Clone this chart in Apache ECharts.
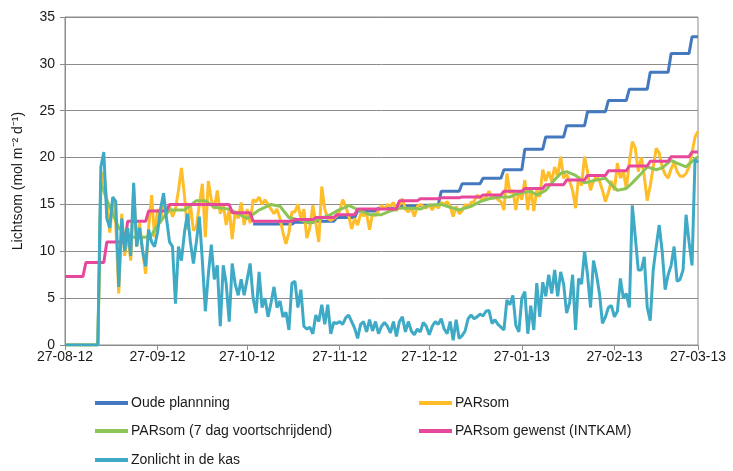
<!DOCTYPE html>
<html>
<head>
<meta charset="utf-8">
<script src="https://cdn.jsdelivr.net/npm/echarts@6/dist/echarts.min.js"></script>
<style>
  html, body { margin: 0; padding: 0; background: #fff; }
  #main { width: 733px; height: 471px; }
</style>
</head>
<body>
<div id="main"></div>
<script>
// x axis = day number since 27-08-12
var tickDays = [0, 31, 61, 92, 122, 153, 184, 212];
var tickLabels = ['27-08-12', '27-09-12', '27-10-12', '27-11-12', '27-12-12', '27-01-13', '27-02-13', '27-03-13'];

// weekly steps: [first day, value]
var oudePlanning = [[63, 12.9], [77, 13.1], [84, 13.2], [91, 13.6], [98, 14.3], [105, 14.6], [112, 14.8], [119, 14.9],
  [126, 16.4], [133, 17.2], [140, 17.8], [147, 18.7], [154, 20.9], [161, 22.2], [168, 23.4], [175, 24.9],
  [182, 26.1], [189, 27.3], [196, 29.1], [203, 31.1], [210, 32.9]];

var parsomGewenst = [[0, 7.3], [7, 8.8], [14, 11.0], [21, 13.2], [28, 14.3], [35, 15.0], [56, 14.1], [63, 13.2],
  [77, 13.4], [84, 13.6], [91, 13.9], [98, 14.5], [112, 15.4], [119, 15.6], [126, 15.7], [133, 15.8],
  [140, 16.0], [147, 16.4], [154, 16.7], [161, 17.1], [168, 17.6], [175, 18.1], [182, 18.6], [189, 19.1],
  [196, 19.6], [203, 20.1], [210, 20.6]];

// daily values, day 0..212
var parsom = [
  0, 0, 0, 0, 0, 0, 0, 0, 0, 0,
  0, 0, 16.5, 18.5, 15.5, 12.0, 15.5, 13.0, 5.5, 14.0,
  9.5, 12.0, 9.0, 16.5, 10.5, 13.0, 10.0, 7.6, 12.5, 16.0,
  11.5, 14.5, 13.0, 15.5, 14.0, 14.8, 13.7, 14.5, 16.5, 18.9,
  16.0, 12.3, 15.0, 12.2, 12.6, 15.0, 17.2, 11.5, 17.5, 15.5,
  14.5, 16.5, 14.0, 15.0, 12.8, 14.5, 11.3, 14.3, 13.5, 15.2,
  12.8, 14.5, 13.0, 15.5, 15.3, 15.8, 15.0, 15.5, 15.0, 14.5,
  14.0, 14.5, 13.5, 12.0, 10.8, 12.0, 14.2, 14.2, 15.0, 13.5,
  14.5, 11.4, 12.5, 14.9, 13.0, 11.0, 16.9, 14.5, 13.5, 13.3,
  13.5, 13.8, 14.3, 15.5, 14.8, 13.8, 12.4, 13.5, 12.8, 14.0,
  13.8, 14.0, 12.3, 14.0, 13.8, 14.3, 14.9, 14.5, 15.0, 14.8,
  15.2, 14.3, 15.0, 15.6, 14.5, 14.2, 14.6, 13.7, 14.8, 15.0,
  14.8, 14.6, 15.0, 14.4, 15.0, 14.6, 15.2, 15.0, 15.3, 14.8,
  13.7, 14.8, 14.0, 14.3, 15.0, 14.7, 15.2, 15.3, 16.0, 15.7,
  15.5, 15.8, 16.4, 15.8, 16.0, 15.5, 15.3, 14.4, 18.3, 16.2,
  16.5, 14.4, 16.5, 15.5, 17.6, 14.4, 16.8, 14.3, 16.5, 15.8,
  18.7, 17.5, 18.5, 17.5, 19.0, 18.0, 20.1, 17.8, 18.2, 17.5,
  16.5, 14.6, 18.0, 17.0, 20.1, 18.5, 16.5, 17.5, 18.0, 17.5,
  16.5, 15.3, 16.3, 17.5, 16.5, 19.4, 17.8, 18.5, 16.7, 19.5,
  21.7, 21.0, 18.5, 20.0, 18.0, 15.4, 17.0, 19.0, 21.0, 20.5,
  19.0, 18.2, 17.8, 18.8, 19.5, 18.5, 18.0, 18.0, 18.3, 19.0,
  20.5, 22.2, 22.8
];

// 7-day running mean: [day, value]
var parsom7 = [[0, 0], [11, 0], [12, 17.4], [14, 15.5], [16, 14.0], [18, 12.5], [20, 11.8], [23, 11.5], [27, 11.5],
  [29, 11.7], [30, 12.3], [32, 13.2], [34, 14.0], [35, 14.4], [38, 14.4], [40, 14.4], [42, 14.9], [44, 15.4],
  [47, 15.4], [50, 14.7], [55, 14.5], [61, 13.5], [65, 14.4], [69, 15.0], [72, 14.8], [75, 13.6], [79, 13.3],
  [82, 13.0], [84, 13.3], [89, 13.9], [91, 14.3], [94, 14.7], [95, 14.9], [99, 14.3], [102, 13.9], [106, 13.9],
  [109, 14.3], [112, 14.6], [116, 14.6], [119, 14.5], [122, 14.9], [126, 15.0], [129, 14.7], [132, 14.4],
  [136, 14.8], [139, 15.3], [142, 15.6], [146, 15.8], [149, 15.8], [152, 16.2], [156, 16.4], [158, 16.0],
  [161, 16.5], [163, 17.3], [166, 18.3], [168, 18.5], [171, 18.1], [174, 17.3], [178, 17.6], [181, 17.8],
  [183, 17.1], [185, 16.5], [188, 16.7], [190, 17.3], [193, 18.3], [195, 19.0], [198, 18.7], [200, 18.9],
  [203, 19.7], [205, 19.4], [208, 19.0], [210, 19.6], [212, 20.1]];

var zonlicht = [
  0, 0, 0, 0, 0, 0, 0, 0, 0, 0,
  0, 0, 19.0, 20.6, 13.5, 12.5, 15.8, 15.3, 6.2, 13.5,
  10.0, 12.5, 9.5, 17.3, 10.5, 12.5, 10.0, 8.4, 12.3, 11.0,
  10.5, 12.0, 14.5, 16.2, 13.5, 11.0, 10.5, 4.4, 10.5, 9.0,
  12.0, 14.0, 11.0, 8.7, 11.0, 13.7, 9.0, 3.6, 7.5, 10.7,
  7.0, 8.5, 2.0, 8.5, 6.5, 2.5, 8.7, 6.5, 5.3, 7.0,
  5.3, 7.0, 8.7, 5.0, 3.4, 7.8, 4.0, 5.0, 3.0, 4.5,
  6.2, 4.0, 4.7, 3.0, 3.5, 1.6, 6.6, 6.8, 4.0, 5.9,
  2.0, 1.7, 1.9, 1.2, 3.2, 2.5, 4.3, 2.2, 4.3, 1.2,
  2.4, 2.3, 2.5, 2.2, 2.9, 3.2, 2.5, 1.8, 0.7, 2.2,
  2.5, 1.4, 2.7, 1.5, 2.5, 1.2, 2.0, 2.4, 2.0, 1.3,
  2.5, 0.9, 2.5, 3.0, 1.4, 2.5, 1.5, 1.1, 1.7, 1.4,
  2.4, 2.0, 1.1, 2.0, 2.5, 2.2, 2.8, 1.7, 1.2, 2.5,
  0.5, 2.7, 0.7, 1.0, 1.5, 2.8, 3.2, 2.8, 3.0, 3.3,
  3.1, 3.6, 3.7, 2.3, 2.7, 2.2, 1.9, 1.6, 4.8, 4.3,
  5.3, 2.1, 1.4, 5.0, 5.7, 1.2, 4.2, 1.6, 6.6, 3.0,
  6.7, 5.2, 7.5, 5.5, 8.0, 5.2, 7.8, 6.5, 3.4, 4.5,
  7.5, 1.6, 7.1, 6.5, 10.0, 7.5, 4.0, 9.0, 7.5, 5.5,
  2.3, 3.0, 4.0, 4.2, 3.0, 3.6, 7.1, 5.0, 5.5, 4.0,
  14.9, 11.5, 8.0, 8.0, 9.4, 4.0, 2.6, 8.0, 10.5, 12.8,
  10.0, 5.9, 7.5, 8.5, 10.5, 6.8, 7.0, 8.0, 13.9, 11.0,
  8.5, 19.8, 19.5
];

var lastDay = 212;

// steps -> line points (one day ramp between levels)
function stepLine(steps) {
  var pts = [];
  for (var i = 0; i < steps.length; i++) {
    var end = i + 1 < steps.length ? steps[i + 1][0] - 1 : lastDay;
    pts.push([steps[i][0], steps[i][1]]);
    pts.push([end, steps[i][1]]);
  }
  return pts;
}

function daily(vals) {
  return vals.map(function (v, i) { return [i, v]; });
}

var chart = echarts.init(document.getElementById('main'));

var font = 'Liberation Sans, Arial, sans-serif';
var legendText = { color: '#1a1a1a', fontSize: 14, fontFamily: font, padding: [0, 0, 0, -2] };

function lineSeries(name, color, data) {
  return {
    name: name,
    type: 'line',
    data: data,
    showSymbol: false,
    symbol: 'none',
    lineStyle: { color: color, width: 3 },
    itemStyle: { color: color }
  };
}

function legendAt(name, left, top) {
  return {
    data: [name],
    left: left,
    top: top,
    padding: 0,
    icon: 'rect',
    itemWidth: 33,
    itemHeight: 4,
    textStyle: legendText
  };
}

var option = {
  animation: false,
  backgroundColor: '#fff',
  grid: {
    left: 65, right: 35, top: 17, bottom: 126,
    show: true, borderColor: '#8c8c8c', borderWidth: 1
  },
  legend: [
    legendAt('Oude plannning', 95, 396),
    legendAt('PARsom', 419, 396),
    legendAt('PARsom (7 dag voortschrijdend)', 95, 424),
    legendAt('PARsom gewenst (INTKAM)', 419, 424),
    legendAt('Zonlicht in de kas', 95, 453)
  ],
  xAxis: {
    type: 'value',
    min: 0,
    max: lastDay,
    axisLine: { lineStyle: { color: '#8c8c8c' } },
    axisTick: { show: true, customValues: tickDays, length: 5, lineStyle: { color: '#8c8c8c' } },
    axisLabel: {
      customValues: tickDays,
      margin: 5,
      color: '#1a1a1a',
      fontSize: 14,
      fontFamily: font,
      formatter: function (v) { return tickLabels[tickDays.indexOf(v)]; }
    },
    splitLine: { show: false }
  },
  yAxis: {
    type: 'value',
    min: 0,
    max: 35,
    interval: 5,
    name: 'Lichtsom (mol m\u207B\u00B2 d\u207B\u00B9)',
    nameLocation: 'middle',
    nameRotate: 90,
    nameGap: 40,
    nameTextStyle: { color: '#1a1a1a', fontSize: 14, fontFamily: font },
    axisLine: { show: true, lineStyle: { color: '#8c8c8c' } },
    axisTick: { show: true, length: 5, lineStyle: { color: '#8c8c8c' } },
    axisLabel: { color: '#1a1a1a', fontSize: 14, fontFamily: font, margin: 10 },
    splitLine: { lineStyle: { color: '#8c8c8c', width: 1 } }
  },
  series: [
    lineSeries('Oude plannning', '#4479bf', stepLine(oudePlanning)),
    lineSeries('PARsom', '#ffbd2a', daily(parsom)),
    lineSeries('PARsom (7 dag voortschrijdend)', '#8cc556', parsom7),
    lineSeries('PARsom gewenst (INTKAM)', '#e7489b', stepLine(parsomGewenst)),
    lineSeries('Zonlicht in de kas', '#3eaac6', daily(zonlicht))
  ]
};

chart.setOption(option);
</script>
</body>
</html>
